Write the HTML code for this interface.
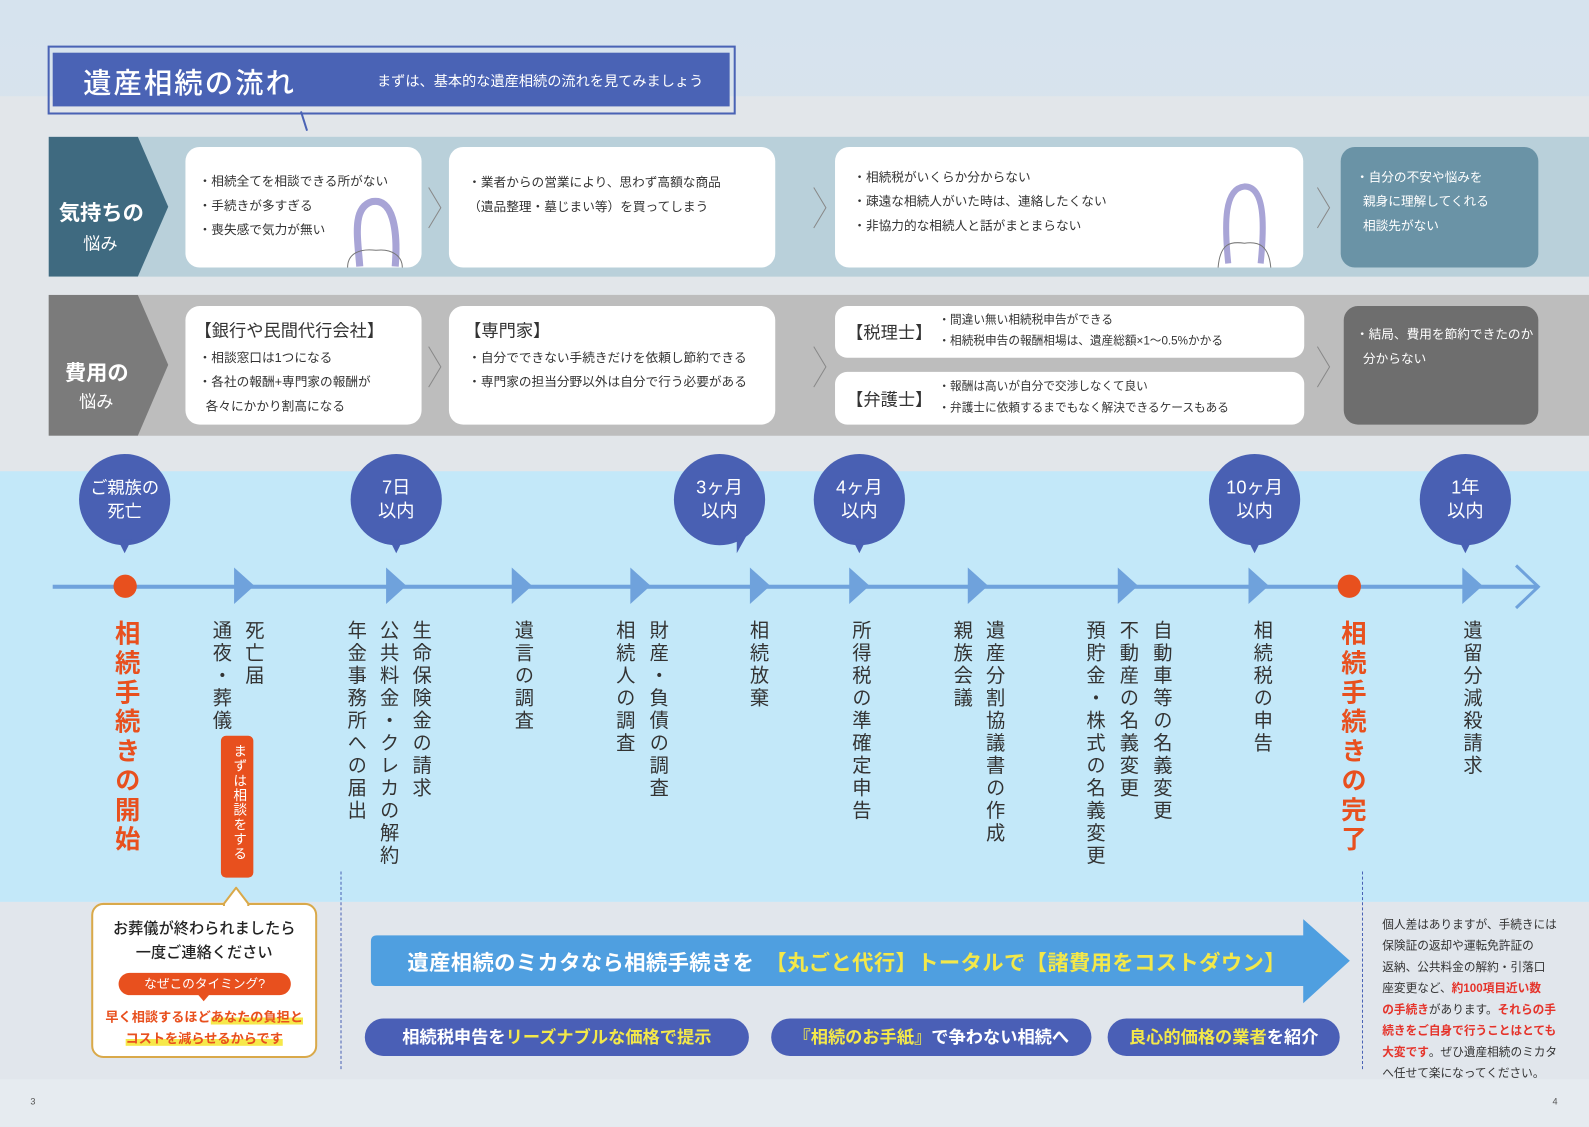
<!DOCTYPE html>
<html><head><meta charset="utf-8">
<style>
*{margin:0;padding:0;box-sizing:border-box}
html,body{width:1589px;height:1127px;overflow:hidden;background:#dfe6ed}
#w{position:absolute;left:0;top:0;width:1568px;height:1112px;transform:scale(1.01339);transform-origin:0 0;font-family:"Liberation Sans","Noto Sans CJK JP",sans-serif;color:#333}
.a{position:absolute}
.card{position:absolute;background:#fff;border-radius:14px}
.t{position:absolute;font-size:12.5px;line-height:24px;color:#333;white-space:nowrap}
.v{position:absolute;writing-mode:vertical-rl;font-size:19px;letter-spacing:3.2px;color:#333;white-space:nowrap;font-weight:400}
.bub{position:absolute;width:90px;height:90px;border-radius:50%;background:#4960b3;color:#fff;text-align:center;font-size:18px;line-height:23px;padding-top:22px}
.bub:after{content:"";position:absolute;left:38px;top:84px;border-left:7px solid transparent;border-right:7px solid transparent;border-top:14px solid #4960b3}
.bub.off:after{left:62px;top:80px;border-left:0;border-right:10px solid transparent;border-top:18px solid #4960b3}
.tri{position:absolute;top:560px;width:0;height:0;border-top:18px solid transparent;border-bottom:18px solid transparent;border-left:20px solid #6fa2dc}
.pill{position:absolute;top:1005px;height:37px;border-radius:19px;background:#4a5fb6;color:#fff;font-size:17px;line-height:37px;text-align:center;font-weight:bold}
.y{color:#f3e84a}
.r{color:#e5332a;font-weight:bold}
</style></head><body><div id="w">
<div class="a" style="left:0;top:0;width:1568px;height:470px;background:linear-gradient(180deg,#d6e3ee 0%,#dde4ea 100%)"></div>
<div class="a" style="left:0;top:95px;width:1568px;height:370px;background:#e2e6ea"></div>
<div class="a" style="left:0;top:465px;width:1568px;height:425px;background:#c3e8f9"></div>
<div class="a" style="left:0;top:890px;width:1568px;height:175px;background:#e1e6ec"></div>
<div class="a" style="left:0;top:1065px;width:1568px;height:47px;background:#e6ebf0"></div>

<div class="a" style="left:47px;top:45px;width:679px;height:68px;border:2px solid #4a63b5"></div>
<div class="a" style="left:52px;top:52px;width:668px;height:53px;background:#4a63b5"></div>
<div class="a" style="left:82px;top:61px;font-size:28px;color:#fff;font-weight:500;letter-spacing:2px">遺産相続の流れ</div>
<div class="a" style="left:372px;top:70px;font-size:14px;color:#fff">まずは、基本的な遺産相続の流れを見てみましょう</div>
<svg class="a" style="left:280px;top:105px" width="40" height="30"><line x1="17" y1="5" x2="23" y2="24" stroke="#4a63b5" stroke-width="2"/></svg>

<div class="a" style="left:48px;top:135px;width:1520px;height:138px;background:#b9d0da"></div>
<svg class="a" style="left:48px;top:135px" width="120" height="138"><polygon points="0,0 88,0 118,69 88,138 0,138" fill="#3f6a80"/></svg>
<div class="a" style="left:58px;top:194px;font-size:21px;color:#fff;font-weight:bold">気持ちの</div>
<div class="a" style="left:82px;top:226px;font-size:17px;color:#fff">悩み</div>
<div class="card" style="left:183px;top:145px;width:233px;height:119px"></div>
<div class="t" style="left:196px;top:167px">・相続全てを相談できる所がない<br>・手続きが多すぎる<br>・喪失感で気力が無い</div>
<svg class="a" style="left:335px;top:195px" width="70" height="70"><path d="M20 68 C18 40 12 10 32 4 C52 0 58 30 55 68" fill="none" stroke="#a8a4d6" stroke-width="7"/><path d="M8 69 C8 55 20 50 36 52 C52 50 62 58 62 69" fill="none" stroke="#777" stroke-width="1"/></svg>
<div class="card" style="left:443px;top:145px;width:322px;height:119px"></div>
<div class="t" style="left:462px;top:168px">・業者からの営業により、思わず高額な商品<br>（遺品整理・墓じまい等）を買ってしまう</div>
<div class="card" style="left:824px;top:145px;width:462px;height:119px"></div>
<div class="t" style="left:842px;top:163px">・相続税がいくらか分からない<br>・疎遠な相続人がいた時は、連絡したくない<br>・非協力的な相続人と話がまとまらない</div>
<svg class="a" style="left:1198px;top:180px" width="60" height="85"><path d="M14 80 C10 40 10 6 30 4 C50 4 50 40 46 80" fill="none" stroke="#a8a4d6" stroke-width="6"/><path d="M4 84 C6 60 16 58 30 60 C44 58 54 62 56 84" fill="none" stroke="#777" stroke-width="1"/></svg>
<div class="card" style="left:1323px;top:145px;width:195px;height:119px;background:#6a93a6"></div>
<div class="t" style="left:1338px;top:163px;color:#fff">・自分の不安や悩みを<br>&nbsp;&nbsp;親身に理解してくれる<br>&nbsp;&nbsp;相談先がない</div>
<svg class="a" style="left:420px;top:183px" width="20" height="44"><polyline points="3,2 15,22 3,42" fill="none" stroke="#888" stroke-width="1"/></svg>
<svg class="a" style="left:800px;top:183px" width="20" height="44"><polyline points="3,2 15,22 3,42" fill="none" stroke="#888" stroke-width="1"/></svg>
<svg class="a" style="left:1297px;top:183px" width="20" height="44"><polyline points="3,2 15,22 3,42" fill="none" stroke="#888" stroke-width="1"/></svg>

<div class="a" style="left:48px;top:291px;width:1520px;height:139px;background:#bdbdbd"></div>
<svg class="a" style="left:48px;top:291px" width="120" height="139"><polygon points="0,0 88,0 118,69 88,139 0,139" fill="#7b7b7b"/></svg>
<div class="a" style="left:64px;top:352px;font-size:21px;color:#fff;font-weight:bold">費用の</div>
<div class="a" style="left:78px;top:382px;font-size:17px;color:#fff">悩み</div>
<div class="card" style="left:183px;top:302px;width:233px;height:117px"></div>
<div class="a" style="left:192px;top:312px;font-size:17px;color:#333">【銀行や民間代行会社】</div>
<div class="t" style="left:196px;top:341px">・相談窓口は1つになる<br>・各社の報酬+専門家の報酬が<br>&nbsp;&nbsp;各々にかかり割高になる</div>
<div class="card" style="left:443px;top:302px;width:322px;height:117px"></div>
<div class="a" style="left:458px;top:312px;font-size:17px;color:#333">【専門家】</div>
<div class="t" style="left:462px;top:341px">・自分でできない手続きだけを依頼し節約できる<br>・専門家の担当分野以外は自分で行う必要がある</div>
<div class="card" style="left:824px;top:302px;width:463px;height:51px;border-radius:12px"></div>
<div class="a" style="left:835px;top:314px;font-size:17px">【税理士】</div>
<div class="t" style="left:926px;top:306px;font-size:11.5px;line-height:21px">・間違い無い相続税申告ができる<br>・相続税申告の報酬相場は、遺産総額×1～0.5%かかる</div>
<div class="card" style="left:824px;top:367px;width:463px;height:52px;border-radius:12px"></div>
<div class="a" style="left:835px;top:380px;font-size:17px">【弁護士】</div>
<div class="t" style="left:926px;top:372px;font-size:11.5px;line-height:21px">・報酬は高いが自分で交渉しなくて良い<br>・弁護士に依頼するまでもなく解決できるケースもある</div>
<div class="card" style="left:1326px;top:302px;width:192px;height:117px;background:#6e6e6e"></div>
<div class="t" style="left:1338px;top:318px;color:#fff">・結局、費用を節約できたのか<br>&nbsp;&nbsp;分からない</div>
<svg class="a" style="left:420px;top:340px" width="20" height="44"><polyline points="3,2 15,22 3,42" fill="none" stroke="#888" stroke-width="1"/></svg>
<svg class="a" style="left:800px;top:340px" width="20" height="44"><polyline points="3,2 15,22 3,42" fill="none" stroke="#888" stroke-width="1"/></svg>
<svg class="a" style="left:1297px;top:340px" width="20" height="44"><polyline points="3,2 15,22 3,42" fill="none" stroke="#888" stroke-width="1"/></svg>

<div class="a" style="left:52px;top:577px;width:1466px;height:4px;background:#6fa2dc"></div>
<svg class="a" style="left:1492px;top:556px" width="32" height="46"><polyline points="4,2 26,23 4,44" fill="none" stroke="#6fa2dc" stroke-width="3"/></svg>
<div class="tri" style="left:231px"></div><div class="tri" style="left:381px"></div><div class="tri" style="left:505px"></div><div class="tri" style="left:622px"></div><div class="tri" style="left:740px"></div><div class="tri" style="left:838px"></div><div class="tri" style="left:955px"></div><div class="tri" style="left:1103px"></div><div class="tri" style="left:1232px"></div><div class="tri" style="left:1443px"></div>
<div class="a" style="left:112px;top:567px;width:23px;height:23px;border-radius:50%;background:#e8501e"></div>
<div class="a" style="left:1320px;top:567px;width:23px;height:23px;border-radius:50%;background:#e8501e"></div>

<div class="bub" style="left:78px;top:448px;font-size:17px">ご親族の<br>死亡</div>
<div class="bub" style="left:346px;top:448px">7日<br>以内</div>
<div class="bub off" style="left:665px;top:448px">3ヶ月<br>以内</div>
<div class="bub" style="left:803px;top:448px">4ヶ月<br>以内</div>
<div class="bub" style="left:1193px;top:448px">10ヶ月<br>以内</div>
<div class="bub" style="left:1401px;top:448px">1年<br>以内</div>

<div class="v" style="left:106px;top:612px;font-size:25px;letter-spacing:4px;color:#e8501e;font-weight:bold">相続手続きの開始</div>
<div class="v" style="left:236px;top:612px">死亡届</div>
<div class="v" style="left:204px;top:612px">通夜・葬儀</div>
<div class="a" style="left:218px;top:726px;width:32px;height:140px;border-radius:5px;background:#e8501e"></div>
<div class="v" style="left:225px;top:734px;font-size:13.5px;letter-spacing:1px;color:#fff">まずは相談をする</div>
<div class="v" style="left:401px;top:612px">生命保険金の請求</div>
<div class="v" style="left:369px;top:612px">公共料金・クレカの解約</div>
<div class="v" style="left:337px;top:612px">年金事務所への届出</div>
<div class="v" style="left:502px;top:612px">遺言の調査</div>
<div class="v" style="left:635px;top:612px">財産・負債の調査</div>
<div class="v" style="left:602px;top:612px">相続人の調査</div>
<div class="v" style="left:734px;top:612px">相続放棄</div>
<div class="v" style="left:835px;top:612px">所得税の準確定申告</div>
<div class="v" style="left:967px;top:612px">遺産分割協議書の作成</div>
<div class="v" style="left:935px;top:612px">親族会議</div>
<div class="v" style="left:1132px;top:612px">自動車等の名義変更</div>
<div class="v" style="left:1099px;top:612px">不動産の名義変更</div>
<div class="v" style="left:1066px;top:612px">預貯金・株式の名義変更</div>
<div class="v" style="left:1231px;top:612px">相続税の申告</div>
<div class="v" style="left:1316px;top:612px;font-size:25px;letter-spacing:4px;color:#e8501e;font-weight:bold">相続手続きの完了</div>
<div class="v" style="left:1438px;top:612px">遺留分減殺請求</div>

<div class="a" style="left:336px;top:860px;height:195px;border-left:1.5px dashed #4a63b5"></div>
<div class="a" style="left:1344px;top:860px;height:195px;border-left:1.5px dashed #4a63b5"></div>

<div class="a" style="left:90px;top:891px;width:223px;height:153px;background:#fff;border:2px solid #d9a94a;border-radius:12px"></div>
<svg class="a" style="left:220px;top:875px" width="26" height="20"><polygon points="0,18 13,1 26,18" fill="#fff" stroke="#d9a94a" stroke-width="2"/><rect x="2" y="17" width="22" height="4" fill="#fff"/></svg>
<div class="a" style="left:90px;top:905px;width:223px;text-align:center;font-size:15px;line-height:24px;color:#222;font-weight:500">お葬儀が終わられましたら<br>一度ご連絡ください</div>
<div class="a" style="left:117px;top:960px;width:170px;height:22px;border-radius:11px;background:#e8501e;color:#fff;font-size:12.5px;line-height:22px;text-align:center">なぜこのタイミング?</div>
<svg class="a" style="left:193px;top:981px" width="16" height="8"><polygon points="2,0 14,0 8,7" fill="#e8501e"/></svg>
<div class="a" style="left:90px;top:993px;width:223px;text-align:center;font-size:13px;line-height:21px;color:#e8501e;font-weight:bold">早く相談するほど<span style="background:linear-gradient(transparent 55%,#f6e84a 55%)">あなたの負担と</span><br><span style="background:linear-gradient(transparent 55%,#f6e84a 55%)">コストを減らせるからです</span></div>

<svg class="a" style="left:364px;top:905px" width="972" height="88"><path d="M8 18 H922 V2 L968 43 L922 85 V68 H8 Q2 68 2 62 V24 Q2 18 8 18Z" fill="#4f9fe0"/></svg>
<div class="a" style="left:402px;top:934px;font-size:21px;color:#fff;font-weight:bold;letter-spacing:0.4px;white-space:nowrap">遺産相続のミカタなら相続手続きを　<span class="y">【丸ごと代行】トータルで【諸費用をコストダウン】</span></div>

<div class="pill" style="left:360px;width:379px">相続税申告を<span class="y">リーズナブルな価格で提示</span></div>
<div class="pill" style="left:761px;width:316px"><span class="y">『相続のお手紙』</span>で争わない相続へ</div>
<div class="pill" style="left:1093px;width:229px"><span class="y">良心的価格の業者</span>を紹介</div>

<div class="a" style="left:1364px;top:903px;font-size:11.5px;line-height:21px;color:#333;white-space:nowrap">個人差はありますが、手続きには<br>保険証の返却や運転免許証の<br>返納、公共料金の解約・引落口<br>座変更など、<span class="r">約100項目近い数</span><br><span class="r">の手続き</span>があります。<span class="r">それらの手</span><br><span class="r">続きをご自身で行うことはとても</span><br><span class="r">大変です</span>。ぜひ遺産相続のミカタ<br>へ任せて楽になってください。</div>

<div class="a" style="left:30px;top:1082px;font-size:9px;color:#555">3</div>
<div class="a" style="left:1532px;top:1082px;font-size:9px;color:#555">4</div>
</div></body></html>
